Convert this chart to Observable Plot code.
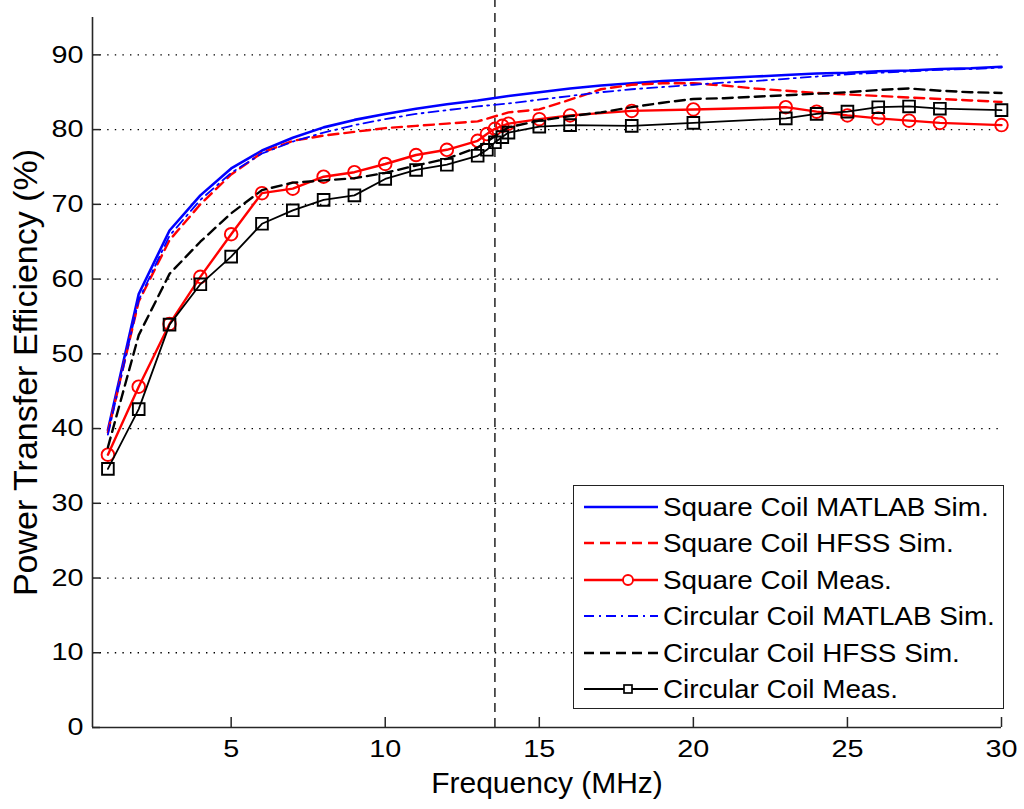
<!DOCTYPE html>
<html><head><meta charset="utf-8">
<script src="https://cdn.jsdelivr.net/npm/d3@7"></script>
<script src="https://cdn.jsdelivr.net/npm/@observablehq/plot@0.6"></script>
<style>
body{margin:0;background:#fff;}
#wrap{position:relative;width:1024px;height:809px;font-family:"Liberation Sans",Arial,sans-serif;}
#legend{position:absolute;left:573px;top:485px;width:431px;height:224px;border:1.5px solid #222;background:#fff;box-sizing:border-box;}
.row{position:absolute;left:0;height:36px;width:429px;}
.row svg{position:absolute;left:0;top:0;}
.row span{position:absolute;left:89px;top:0;line-height:36px;font-size:26px;color:#000;white-space:nowrap;transform:scaleX(1.07);transform-origin:left center;}
</style>
</head><body>
<div id="wrap"></div>
<script>
// ---- data ----
const xTicks = [5, 10, 15, 20, 25, 30];
const yTicks = [0, 10, 20, 30, 40, 50, 60, 70, 80, 90];
const gridY = [10, 20, 30, 40, 50, 60, 70, 80, 90];
const markerFreq = 13.56;

const simFreq = [1,2,3,4,5,6,7,8,9,10,11,12,13,14,15,16,17,18,19,20,21,22,23,24,25,26,27,28,29,30];
const squareMatlab = [39.8,58.0,66.5,71.2,74.8,77.2,78.9,80.3,81.3,82.1,82.8,83.4,83.9,84.5,85.0,85.5,85.9,86.2,86.5,86.7,86.9,87.1,87.3,87.5,87.6,87.8,87.9,88.1,88.2,88.4];
const squareHfss   = [39.5,57.0,65.2,70.0,74.0,76.9,78.5,79.2,79.7,80.2,80.5,80.8,81.1,82.3,82.7,84.0,85.4,86.0,86.2,86.2,85.9,85.5,85.2,84.9,84.7,84.5,84.3,84.1,83.9,83.7];
const circMatlab   = [39.2,57.2,65.8,70.6,74.2,76.8,78.4,79.6,80.6,81.4,82.1,82.6,83.1,83.5,84.0,84.5,85.0,85.4,85.7,86.0,86.3,86.5,86.8,87.1,87.4,87.6,87.8,88.0,88.1,88.3];
const circHfss     = [37.5,52.5,60.7,65.0,68.8,71.9,72.9,73.2,73.5,74.2,75.2,76.1,77.6,80.3,81.2,81.8,82.3,83.0,83.6,84.1,84.2,84.4,84.6,84.8,85.0,85.3,85.5,85.2,85.0,84.9];

const measFreq = [1,2,3,4,5,6,7,8,9,10,11,12,13,13.3,13.56,13.8,14,15,16,18,20,23,24,25,26,27,28,30];
const squareMeas = [36.5,45.6,54.0,60.3,66.0,71.5,72.1,73.7,74.3,75.4,76.6,77.3,78.5,79.4,80.1,80.5,80.8,81.4,81.9,82.5,82.7,83.0,82.4,81.9,81.5,81.2,80.9,80.6];
const circMeas   = [34.6,42.6,53.9,59.3,63.0,67.4,69.2,70.6,71.2,73.4,74.6,75.3,76.5,77.3,78.3,79.0,79.6,80.4,80.6,80.5,80.9,81.5,82.1,82.4,83.0,83.1,82.8,82.6];

const legendLabels = ["Square Coil MATLAB Sim.","Square Coil HFSS Sim.","Square Coil Meas.","Circular Coil MATLAB Sim.","Circular Coil HFSS Sim.","Circular Coil Meas."];
const xLabel = "Frequency (MHz)";
const yLabel = "Power Transfer Efficiency (%)";

// ---- build ----
const rows = (xs, ys) => xs.map((f, i) => ({f, v: ys[i]}));
const styles = [
  {stroke: "#0000ff", strokeWidth: 2.6, dash: null, marker: null},
  {stroke: "#ff0000", strokeWidth: 2.4, dash: "10,6", marker: null},
  {stroke: "#ff0000", strokeWidth: 2.4, dash: null, marker: "circle"},
  {stroke: "#0000ff", strokeWidth: 1.8, dash: "10,5,2,5", marker: null},
  {stroke: "#000000", strokeWidth: 2.4, dash: "10,6", marker: null},
  {stroke: "#000000", strokeWidth: 1.8, dash: null, marker: "square"}
];
const series = [
  rows(simFreq, squareMatlab), rows(simFreq, squareHfss), rows(measFreq, squareMeas),
  rows(simFreq, circMatlab), rows(simFreq, circHfss), rows(measFreq, circMeas)
];

const dataMarks = [];
series.forEach((d, i) => {
  const s = styles[i];
  dataMarks.push(Plot.line(d, {x: "f", y: "v", stroke: s.stroke, strokeWidth: s.strokeWidth, strokeDasharray: s.dash || undefined}));
  if (s.marker) dataMarks.push(Plot.dot(d, {x: "f", y: "v", symbol: s.marker, r: s.marker === "circle" ? 6.3 : 6.6, stroke: s.stroke, strokeWidth: 1.9, fill: "none"}));
});

const plot = Plot.plot({
  width: 1024, height: 809,
  marginLeft: 92, marginRight: 23, marginTop: 17, marginBottom: 82,
  x: {domain: [0.5, 30]},
  y: {domain: [0, 95]},
  style: {fontFamily: "'Liberation Sans', Arial, sans-serif", background: "#fff", overflow: "visible", color: "#000"},
  marks: [
    Plot.ruleY(gridY, {stroke: "#000", strokeWidth: 1.3, strokeDasharray: "1.4,6.2"}),
    Plot.ruleX([markerFreq], {y1: 0, y2: 97.3, stroke: "#000", strokeWidth: 1.3, strokeDasharray: "9,6"}),
    ...dataMarks,
    Plot.ruleX([0.5], {stroke: "#262626", strokeWidth: 1.6}),
    Plot.ruleY([0], {stroke: "#262626", strokeWidth: 1.6}),
    Plot.tickX(xTicks, {x: d => d, insetTop: 700, stroke: "#262626", strokeWidth: 1.5}),
    Plot.tickY(yTicks, {y: d => d, insetRight: 901, stroke: "#262626", strokeWidth: 1.5}),
    Plot.axisX({ticks: xTicks, tickSize: 0, tickPadding: 12, fontSize: 24, label: null}),
    Plot.axisY({ticks: yTicks, tickSize: 0, tickPadding: 9, fontSize: 24, label: null}),
    Plot.text([xLabel], {frameAnchor: "bottom", lineAnchor: "middle", dy: 56, fontSize: 30, fill: "#000", ariaLabel: "xlabel"}),
    Plot.text([yLabel], {frameAnchor: "left", textAnchor: "middle", lineAnchor: "middle", rotate: -90, dx: -66, fontSize: 34, fill: "#000", ariaLabel: "ylabel"})
  ]
});

const wrap = document.getElementById("wrap");
wrap.append(plot);

function stretch(selector, k) {
  plot.querySelectorAll(selector).forEach(t => {
    const w = t.getComputedTextLength();
    t.setAttribute("textLength", (w * k).toFixed(1));
    t.setAttribute("lengthAdjust", "spacingAndGlyphs");
  });
}
stretch('g[aria-label="x-axis tick label"] text', 1.2);
stretch('g[aria-label="y-axis tick label"] text', 1.2);
stretch('g[aria-label="xlabel"] text', 1.12);

// ---- legend ----
const legend = document.createElement("div");
legend.id = "legend";
const centers = [22, 58.5, 95, 131.5, 168, 204.5];
legendLabels.forEach((lab, i) => {
  const s = styles[i];
  const row = document.createElement("div");
  row.className = "row";
  row.style.top = (centers[i] - 18 - 1.5) + "px";
  const ns = "http://www.w3.org/2000/svg";
  const svg = document.createElementNS(ns, "svg");
  svg.setAttribute("width", 90); svg.setAttribute("height", 36);
  const ln = document.createElementNS(ns, "line");
  ln.setAttribute("x1", 10); ln.setAttribute("x2", 84); ln.setAttribute("y1", 18); ln.setAttribute("y2", 18);
  ln.setAttribute("stroke", s.stroke); ln.setAttribute("stroke-width", s.strokeWidth);
  if (s.dash) ln.setAttribute("stroke-dasharray", s.dash);
  svg.append(ln);
  if (s.marker === "circle") {
    const c = document.createElementNS(ns, "circle");
    c.setAttribute("cx", 54); c.setAttribute("cy", 18); c.setAttribute("r", 5);
    c.setAttribute("fill", "#fff"); c.setAttribute("stroke", s.stroke); c.setAttribute("stroke-width", 1.9);
    svg.append(c);
  } else if (s.marker === "square") {
    const r = document.createElementNS(ns, "rect");
    r.setAttribute("x", 50); r.setAttribute("y", 14); r.setAttribute("width", 8); r.setAttribute("height", 8);
    r.setAttribute("fill", "#fff"); r.setAttribute("stroke", s.stroke); r.setAttribute("stroke-width", 1.7);
    svg.append(r);
  }
  row.append(svg);
  const sp = document.createElement("span");
  sp.textContent = lab;
  row.append(sp);
  legend.append(row);
});
wrap.append(legend);
</script>
</body></html>
